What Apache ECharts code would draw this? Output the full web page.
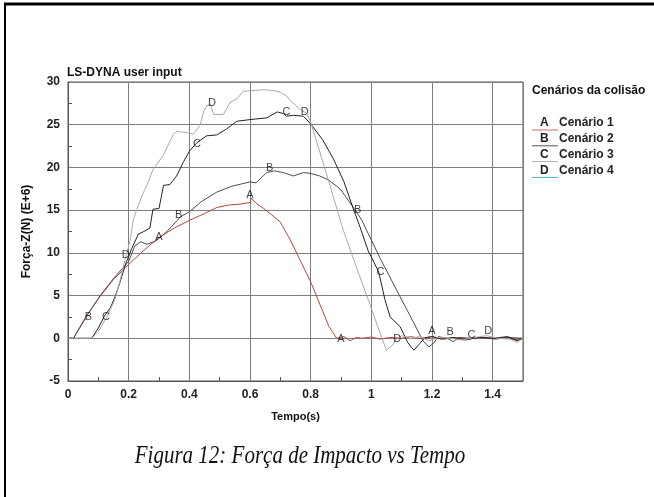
<!DOCTYPE html>
<html>
<head>
<meta charset="utf-8">
<script src="https://cdn.jsdelivr.net/npm/echarts@6/dist/echarts.min.js"></script>
<style>
  html, body { margin: 0; padding: 0; background: #fff; }
</style>
</head>
<body>
<div id="forcaChart" style="width: 654px;height: 497px"></div>
<script>
// Força-Z (E+6 N) x tempo (s)
var cenario1 = [[0,0],[0.018,0],[0.06,2.6],[0.106,4.9],[0.15,6.9],[0.205,8.8],[0.25,10.3],[0.30,11.8],[0.35,12.9],[0.40,13.8],[0.45,14.6],[0.49,15.3],[0.53,15.6],[0.567,15.7],[0.60,15.9],[0.605,16.4],[0.62,15.8],[0.645,15.2],[0.67,14.5],[0.70,13.6],[0.733,11.5],[0.77,8.8],[0.80,6.6],[0.83,4.0],[0.86,1.4],[0.886,0],[0.91,0.2],[0.93,-0.3],[0.95,0.1],[0.97,0],[1.0,0.15],[1.03,-0.1],[1.06,0.1],[1.1,0],[1.13,0.2],[1.16,0],[1.2,0.2],[1.24,-0.1],[1.28,0.1],[1.32,-0.1],[1.36,0.1],[1.4,0],[1.44,0.1],[1.47,-0.2],[1.5,0]];
var cenario2 = [[0,0],[0.018,0],[0.067,2.9],[0.106,5.0],[0.15,7.0],[0.20,9.0],[0.22,10.8],[0.24,11.3],[0.26,11.0],[0.29,11.4],[0.32,12.3],[0.34,13.0],[0.37,14.2],[0.40,14.8],[0.44,16.0],[0.49,17.1],[0.54,17.8],[0.60,18.3],[0.62,18.2],[0.655,19.4],[0.68,19.6],[0.71,19.4],[0.743,19.0],[0.776,19.4],[0.80,19.3],[0.83,19.0],[0.86,18.5],[0.897,17.5],[0.947,15.0],[0.969,13.8],[0.985,12.6],[1.03,9.3],[1.095,4.85],[1.14,1.8],[1.17,-0.3],[1.19,-1.0],[1.205,-0.6],[1.22,0.2],[1.25,0],[1.27,-0.4],[1.29,0.1],[1.33,0],[1.37,0.1],[1.41,-0.1],[1.45,0.1],[1.5,0]];
var cenario3 = [[0,0],[0.078,0],[0.10,1.2],[0.12,2.6],[0.14,3.6],[0.155,4.85],[0.17,6.4],[0.19,8.7],[0.21,10.5],[0.232,12.2],[0.25,12.5],[0.27,12.9],[0.28,15.1],[0.30,15.2],[0.315,17.9],[0.336,18.0],[0.358,19.0],[0.38,20.6],[0.40,21.9],[0.425,22.9],[0.457,23.7],[0.49,23.8],[0.523,24.5],[0.556,25.4],[0.60,25.6],[0.655,25.8],[0.69,26.5],[0.71,26.3],[0.72,26.0],[0.743,26.1],[0.776,26.0],[0.80,25.1],[0.84,23.2],[0.875,21.0],[0.91,18.3],[0.94,15.2],[0.96,13.3],[0.99,10.2],[1.024,7.8],[1.045,4.5],[1.062,2.5],[1.095,1.35],[1.12,-0.5],[1.14,-1.4],[1.16,-0.6],[1.175,0],[1.2,0.2],[1.23,-0.1],[1.27,0.1],[1.31,-0.2],[1.35,0.1],[1.4,0],[1.45,0.2],[1.48,-0.3],[1.5,0]];
var cenario4 = [[0,0],[0.078,0],[0.10,0.8],[0.13,2.6],[0.155,4.6],[0.17,6.5],[0.188,9.2],[0.205,11.5],[0.215,13.8],[0.227,15.1],[0.245,16.8],[0.26,17.9],[0.281,19.8],[0.314,21.4],[0.335,23.0],[0.348,23.9],[0.358,24.2],[0.39,24.1],[0.413,23.9],[0.435,24.9],[0.447,26.5],[0.457,27.2],[0.47,27.4],[0.48,26.2],[0.512,26.2],[0.534,27.6],[0.556,28.0],[0.578,28.9],[0.61,29.0],[0.644,29.1],[0.677,29.0],[0.70,28.8],[0.72,28.4],[0.733,27.8],[0.765,26.8],[0.787,26.3],[0.80,25.3],[0.85,19.5],[0.908,12.6],[0.95,8.4],[1.0,3.5],[1.03,0.5],[1.05,-1.4],[1.07,-0.8],[1.085,0],[1.1,0.3],[1.13,0],[1.16,0.2],[1.19,-0.3],[1.22,0.1],[1.26,0],[1.3,-0.2],[1.34,0.1],[1.38,0.3],[1.42,0],[1.46,-0.1],[1.48,-0.5],[1.5,0]];

// letras marcadas sobre as curvas
var letrasA = [[0.30,11.9],[0.6,16.8],[0.9,-0.1],[1.2,0.9]];
var letrasB = [[0.067,2.5],[0.365,14.4],[0.665,19.9],[0.955,15.0],[1.26,0.7]];
var letrasC = [[0.125,2.5],[0.425,22.7],[0.72,26.5],[1.03,7.8],[1.33,0.4]];
var letrasD = [[0.19,9.8],[0.475,27.6],[0.78,26.5],[1.085,-0.1],[1.385,0.9]];

var nomes = ['Cenário 1', 'Cenário 2', 'Cenário 3', 'Cenário 4'];
var letras = ['A', 'B', 'C', 'D'];
var cores = ['#b5473a', '#4d4d4d', '#222222', '#a9a9a9'];
var coresLegenda = ['#c86a64', '#555555', '#b0b0b0', '#4fb3ad'];

var fonte = '"Liberation Sans", Arial, sans-serif';

var forcaChart = echarts.init(document.getElementById('forcaChart'));

var dados = [cenario1, cenario2, cenario3, cenario4];
var marcas = [letrasA, letrasB, letrasC, letrasD];

var series = [];
for (let i = 0; i < dados.length; i++) {
  series.push({
    name: nomes[i],
    type: 'line',
    data: dados[i],
    symbol: 'none',
    lineStyle: { width: 1, color: cores[i] },
    z: 3
  });
}
for (let i = 0; i < marcas.length; i++) {
  series.push({
    name: letras[i],
    type: 'scatter',
    data: marcas[i],
    symbolSize: 0,
    z: 4,
    label: {
      show: true,
      position: 'inside',
      formatter: letras[i],
      color: '#111',
      fontFamily: fonte,
      fontSize: 11
    }
  });
}

// legenda desenhada a mao (letra sobre o traço)
var legenda = [{
  type: 'text', left: 532, top: 85,
  style: { text: 'Cenários da colisão', fontFamily: fonte, fontSize: 12, fontWeight: 'bold', fill: '#111' }
}];
for (let i = 0; i < nomes.length; i++) {
  let y = 123 + i * 15.8;
  legenda.push({
    type: 'line',
    shape: { x1: 532, y1: y + 7, x2: 558, y2: y + 7 },
    style: { stroke: coresLegenda[i], lineWidth: 1 }
  });
  legenda.push({
    type: 'text', left: 540, top: y - 6,
    style: { text: letras[i], fontFamily: fonte, fontSize: 12, fontWeight: 'bold', fill: '#222' }
  });
  legenda.push({
    type: 'text', left: 559, top: y - 6,
    style: { text: nomes[i], fontFamily: fonte, fontSize: 12, fontWeight: 'bold', fill: '#222' }
  });
}

var option = {
  animation: false,
  title: {
    text: 'LS-DYNA user input',
    left: 67,
    top: 67,
    padding: 0,
    textStyle: { fontFamily: fonte, fontSize: 12, fontWeight: 'bold', color: '#111' }
  },
  grid: {
    left: 68, right: 131, top: 82, bottom: 116,
    show: true, borderColor: '#555', borderWidth: 1
  },
  xAxis: {
    type: 'value',
    min: 0, max: 1.5, interval: 0.2,
    name: 'Tempo(s)',
    nameLocation: 'middle',
    nameGap: 30,
    nameTextStyle: { fontFamily: fonte, fontSize: 11, fontWeight: 'bold', color: '#111' },
    axisLine: { show: true, onZero: false, lineStyle: { color: '#555' } },
    axisTick: { show: false, inside: true },
    minorTick: { show: true, splitNumber: 2, length: 4, lineStyle: { color: '#555' } },
    axisLabel: {
      showMaxLabel: false, margin: 8,
      fontFamily: fonte, fontSize: 12, fontWeight: 'bold', color: '#222'
    },
    splitLine: { show: true, lineStyle: { color: '#7e7e7e', width: 1 } }
  },
  yAxis: {
    type: 'value',
    min: -5, max: 30, interval: 5,
    name: 'Força-Z(N) (E+6)',
    nameLocation: 'middle',
    nameGap: 35,
    nameTextStyle: { fontFamily: fonte, fontSize: 12, fontWeight: 'bold', color: '#111' },
    axisLine: { show: true, onZero: false, lineStyle: { color: '#555' } },
    axisTick: { show: false, inside: true },
    minorTick: { show: true, splitNumber: 2, length: 4, lineStyle: { color: '#555' } },
    axisLabel: {
      margin: 8,
      fontFamily: fonte, fontSize: 12, fontWeight: 'bold', color: '#222'
    },
    splitLine: { show: true, lineStyle: { color: '#7e7e7e', width: 1 } }
  },
  series: series,
  graphic: legenda.concat([
    // moldura da figura
    { type: 'line', shape: { x1: 4, y1: 4, x2: 654, y2: 4 }, style: { stroke: '#000', lineWidth: 3 } },
    { type: 'line', shape: { x1: 5, y1: 3, x2: 5, y2: 497 }, style: { stroke: '#000', lineWidth: 2 } },
    {
      type: 'text', x: 300, y: 444, scaleX: 0.84, originX: 0,
      style: {
        text: 'Figura 12: Força de Impacto vs Tempo',
        align: 'center',
        fontFamily: '"Liberation Serif", "Times New Roman", serif',
        fontStyle: 'italic', fontSize: 25, fill: '#111'
      }
    }
  ])
};

forcaChart.setOption(option);
</script>
</body>
</html>
